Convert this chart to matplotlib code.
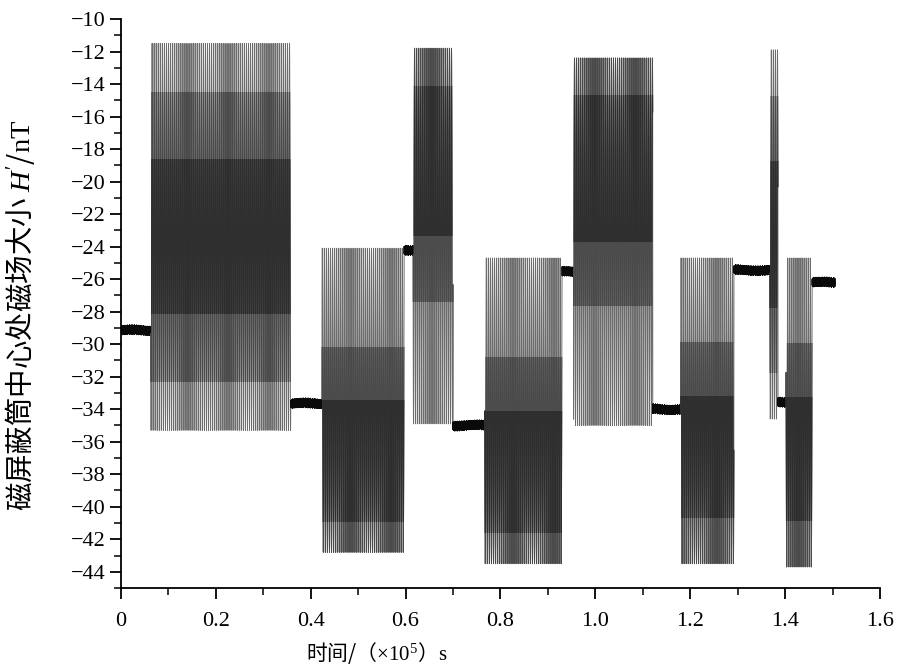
import numpy as np
import matplotlib
matplotlib.use('Agg')
import matplotlib.pyplot as plt
from matplotlib.patches import Rectangle
from matplotlib.ticker import MultipleLocator, FixedLocator, FixedFormatter

plt.rcParams['font.family'] = ['Liberation Serif', 'Noto Sans CJK SC']
plt.rcParams['mathtext.fontset'] = 'custom'
plt.rcParams['mathtext.rm'] = 'Liberation Serif'
plt.rcParams['mathtext.it'] = 'Liberation Serif:italic'
plt.rcParams['path.simplify'] = False

# 各段数据（时间单位 1e5 s，磁场单位 nT）
# 稳态段：起点、终点、平均值
flat_start = [0.000, 0.358, 0.597, 0.700, 0.930, 1.121, 1.292, 1.385, 1.457]
flat_end = [0.063, 0.424, 0.616, 0.767, 0.954, 1.180, 1.368, 1.402, 1.505]
flat_level = [-29.15, -33.65, -24.2, -35.0, -25.55, -34.0, -25.45, -33.6, -26.2]

# 振荡段：起点、终点、最小值、最大值
osc_start = [0.063, 0.424, 0.616, 0.767, 0.954, 1.180, 1.368, 1.402]
osc_end = [0.358, 0.597, 0.700, 0.930, 1.121, 1.292, 1.385, 1.457]
osc_low = [-35.3, -42.8, -34.9, -43.5, -35.0, -43.5, -34.6, -43.7]
osc_high = [-11.5, -24.1, -11.8, -24.7, -12.4, -24.7, -11.9, -24.7]

x_ticks = [0, 0.2, 0.4, 0.6, 0.8, 1.0, 1.2, 1.4, 1.6]
x_ticklabels = ['0', '0.2', '0.4', '0.6', '0.8', '1.0', '1.2', '1.4', '1.6']
y_ticks = list(range(-44, -9, 2))

# 振荡段的深色区位置（相对振幅，模拟原图灰度）
dark_pos = [0.0, -0.4, 0.4, -0.4, 0.4, -0.3, 0.0, -0.3]

# 生成曲线
f_osc = 231.4           # 每单位时间的振荡周期数
samples_per_cycle = 24
dt = 1.0 / (f_osc * samples_per_cycle)
t = np.arange(0, 1.505, dt)
k = np.arange(t.size)
H = np.full_like(t, np.nan)

for s, e, lv in zip(flat_start, flat_end, flat_level):
    m = (t >= s) & (t < e)
    ripple = 0.8 + 0.2 * np.sin(2 * np.pi * 310 * t[m]) * np.sin(2 * np.pi * 97 * t[m])
    H[m] = lv + 0.3 * np.cos(np.pi * k[m]) * ripple + 0.04 * np.sin(2 * np.pi * 11 * t[m])

for s, e, lo, hi in zip(osc_start, osc_end, osc_low, osc_high):
    m = (t >= s) & (t < e)
    c = (hi + lo) / 2
    a = (hi - lo) / 2
    H[m] = c + a * np.sin(2 * np.pi * f_osc * t[m])

fig = plt.figure(figsize=(9.02, 6.67), dpi=100)
ax = fig.add_axes([0.134, 0.1184, 0.8416, 0.8531])

# 整条曲线（浅灰）
ax.plot(t, H, color='#6c6c6c', linewidth=0.7)

# 稳态段（黑色）
for s, e in zip(flat_start, flat_end):
    m = (t >= s) & (t < e)
    ax.plot(t[m], H[m], color='#0a0a0a', linewidth=0.7)

# 振荡段中部加深
for s, e, lo, hi, dp in zip(osc_start, osc_end, osc_low, osc_high, dark_pos):
    m = (t >= s - dt) & (t < e)
    c = (hi + lo) / 2
    a = (hi - lo) / 2
    for w, col in [(0.75, '#4a4a4a'), (0.4, '#2e2e2e')]:
        line, = ax.plot(t[m], H[m], color=col, linewidth=0.7)
        rect = Rectangle((s - 0.01, c + a * (dp - w)), e - s + 0.02, 2 * a * w,
                         transform=ax.transData, visible=False)
        ax.add_patch(rect)
        line.set_clip_path(rect)

ax.set_xlim(0, 1.6)
ax.set_ylim(-45, -10)

ax.spines['top'].set_visible(False)
ax.spines['right'].set_visible(False)
ax.spines['left'].set_linewidth(1.3)
ax.spines['bottom'].set_linewidth(1.3)

ax.xaxis.set_major_locator(FixedLocator(x_ticks))
ax.xaxis.set_major_formatter(FixedFormatter(x_ticklabels))
ax.xaxis.set_minor_locator(MultipleLocator(0.1))
ax.yaxis.set_major_locator(FixedLocator(y_ticks))
ax.yaxis.set_minor_locator(MultipleLocator(1))

ax.tick_params(which='major', direction='out', length=8, width=1.3, labelsize=16)
ax.tick_params(which='minor', direction='out', length=5, width=1.1)
ax.tick_params(axis='x', pad=9)
ax.tick_params(axis='y', pad=3)

ax.set_xlabel('时间/（$\\times10^{5}$）$\\mathrm{s}$', fontsize=15,
              family=['Noto Sans CJK SC', 'DejaVu Sans'])
ax.xaxis.set_label_coords(0.337, -0.092)
ax.set_ylabel("磁屏蔽筒中心处磁场大小 $H'$/$\\mathrm{nT}$", fontsize=20.5,
              family=['Noto Sans CJK SC', 'DejaVu Sans'])
ax.yaxis.set_label_coords(-0.11, 0.48)

fig.savefig('out.png', dpi=100)
